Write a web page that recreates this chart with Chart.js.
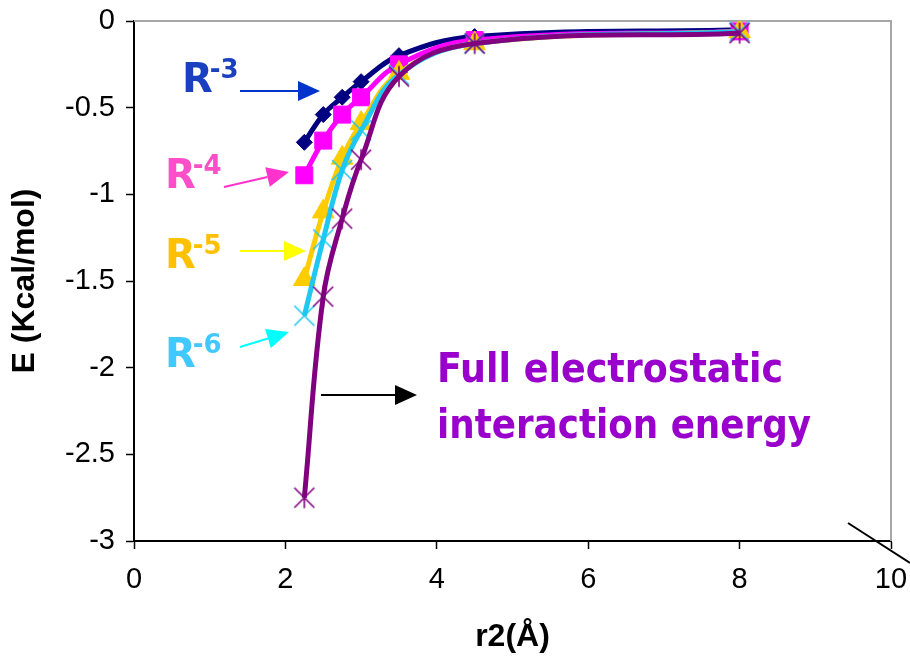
<!DOCTYPE html>
<html><head><meta charset="utf-8">
<script src="https://cdn.jsdelivr.net/npm/chart.js@4.4.0/dist/chart.umd.min.js"></script>
<style>html,body{margin:0;padding:0;background:#fff;} #wrap{width:910px;height:656px;position:relative;}</style>
</head><body><div id="wrap"><canvas id="c" width="910" height="656"></canvas></div>
<script>
// ---- data ----
const rValues = [2.25, 2.5, 2.75, 3.0, 3.5, 4.5, 8.0];
const eR3   = [-0.70, -0.54, -0.44, -0.35, -0.20, -0.09, -0.05];
const eR4   = [-0.89, -0.69, -0.54, -0.44, -0.25, -0.11, -0.06];
const eR5   = [-1.49, -1.10, -0.79, -0.59, -0.30, -0.13, -0.06];
const eR6   = [-1.70, -1.26, -0.86, -0.63, -0.31, -0.13, -0.06];
const eFull = [-2.75, -1.59, -1.14, -0.80, -0.32, -0.13, -0.07];
const seriesNames = ['R-3', 'R-4', 'R-5', 'R-6', 'Full electrostatic interaction energy'];
const xTickLabels = ['0', '2', '4', '6', '8', '10'];
const yTickLabels = ['0', '-0.5', '-1', '-1.5', '-2', '-2.5', '-3'];
const xTitle = 'r2(Å)';
const yTitle = 'E (Kcal/mol)';

function pts(ys){ return rValues.map((x,i)=>({x:x, y:ys[i]})); }

function makeMarker(color, r, lw, vertical){
  const s = Math.ceil(2*r + lw*2 + 2);
  const c = document.createElement('canvas');
  c.width = s; c.height = s;
  const g = c.getContext('2d');
  g.strokeStyle = color; g.lineWidth = lw; g.lineCap = 'butt';
  const m = s/2;
  g.beginPath();
  g.moveTo(m-r, m-r); g.lineTo(m+r, m+r);
  g.moveTo(m+r, m-r); g.lineTo(m-r, m+r);
  if (vertical){ g.moveTo(m, m-r*1.05); g.lineTo(m, m+r*1.05); }
  g.stroke();
  return c;
}
const xMarker = makeMarker('#1EC8F0', 10, 1.6, false);
const starMarker = makeMarker('#800080', 10, 1.6, true);

const FONT = '"Liberation Sans", Arial, sans-serif';

const annotPlugin = {
  id: 'annot',
  beforeDatasetsDraw(chart){
    const {ctx, chartArea:a} = chart;
    ctx.save();
    ctx.strokeStyle = '#A6A6A6'; ctx.lineWidth = 2;
    ctx.beginPath();
    ctx.moveTo(a.left, a.top); ctx.lineTo(a.right, a.top); ctx.lineTo(a.right, a.bottom);
    ctx.stroke();
    ctx.restore();
  },
  afterDraw(chart){
    const {ctx, chartArea:a} = chart;
    ctx.save();
    function arrow(x1,y1,x2,y2,color,lw,hl,hw){
      const ang = Math.atan2(y2-y1, x2-x1);
      const bx = x2 - Math.cos(ang)*hl, by = y2 - Math.sin(ang)*hl;
      ctx.strokeStyle = color; ctx.fillStyle = color; ctx.lineWidth = lw;
      ctx.beginPath(); ctx.moveTo(x1,y1); ctx.lineTo(bx,by); ctx.stroke();
      ctx.beginPath();
      ctx.moveTo(x2,y2);
      ctx.lineTo(bx + Math.sin(ang)*hw, by - Math.cos(ang)*hw);
      ctx.lineTo(bx - Math.sin(ang)*hw, by + Math.cos(ang)*hw);
      ctx.closePath(); ctx.fill();
    }
    function rLabel(x, y, sup, color){
      ctx.fillStyle = color;
      ctx.textBaseline = 'alphabetic'; ctx.textAlign = 'left';
      ctx.font = 'bold 40px "DejaVu Sans", sans-serif';
      ctx.fillText('R', x, y);
      const w = ctx.measureText('R').width;
      ctx.font = 'bold 26px "DejaVu Sans", sans-serif';
      ctx.fillText(sup, x + w - 3, y - 14);
    }
    function fitText(txt, x, y, w, color, font){
      ctx.font = font; ctx.fillStyle = color;
      ctx.textAlign = 'left'; ctx.textBaseline = 'alphabetic';
      const mw = ctx.measureText(txt).width;
      ctx.save(); ctx.translate(x, y); ctx.scale(w/mw, 1);
      ctx.fillText(txt, 0, 0); ctx.restore();
    }
    rLabel(182, 92, '-3', '#1A3FBF');
    arrow(240, 91, 320, 91, '#0033CC', 2, 22, 10);
    rLabel(165, 188, '-4', '#FF4FC8');
    arrow(224, 187, 289, 172, '#FF33CC', 2, 22, 10);
    rLabel(165, 268, '-5', '#FFC000');
    arrow(240, 251, 306, 251, '#FFFF00', 2, 22, 10);
    rLabel(165, 367, '-6', '#40C8FF');
    arrow(240, 347, 289, 332, '#00FFFF', 2, 22, 10);
    arrow(321, 395, 417, 395, '#000000', 2, 22, 10);
    fitText('Full electrostatic', 437, 382, 346, '#9900CC', 'bold 40px "DejaVu Sans", sans-serif');
    fitText('interaction energy', 437, 438, 374, '#9900CC', 'bold 40px "DejaVu Sans", sans-serif');
    // stray diagonal line near the lower right corner
    ctx.strokeStyle = '#000'; ctx.lineWidth = 2;
    ctx.beginPath(); ctx.moveTo(a.right - 43, a.bottom - 18); ctx.lineTo(a.right + 19, a.bottom + 22); ctx.stroke();
    ctx.restore();
  }
};

function ds(label, ys, color, style, radius, order, lw){
  return {
    label, data: pts(ys), borderColor: color, backgroundColor: color,
    borderWidth: lw, pointStyle: style, pointRadius: radius, pointHoverRadius: radius,
    pointBorderColor: color, pointBackgroundColor: color, pointBorderWidth: 1,
    tension: 0.4, fill: false, order
  };
}

new Chart(document.getElementById('c'), {
  type: 'line',
  data: {
    datasets: [
      ds(seriesNames[0], eR3, '#000080', 'rectRot', 8, 5, 5),
      ds(seriesNames[1], eR4, '#FF00FF', 'rect', 12, 4, 5),
      ds(seriesNames[2], eR5, '#FFCC00', 'triangle', 12.5, 3, 5),
      ds(seriesNames[3], eR6, '#1EC8F0', xMarker, 10, 2, 5),
      ds(seriesNames[4], eFull, '#800080', starMarker, 10, 1, 5)
    ]
  },
  options: {
    responsive: false, animation: false, devicePixelRatio: 1,
    layout: { padding: { top: 21, right: 19, left: 0, bottom: 0 } },
    plugins: { legend: { display: false }, tooltip: { enabled: false } },
    scales: {
      x: {
        type: 'linear', min: 0, max: 10,
        afterFit(s){ s.height = 115; s.paddingLeft = 0; s.paddingRight = 0; },
        afterBuildTicks(s){ s.ticks = xTickLabels.map(t => ({ value: parseFloat(t) })); },
        ticks: { callback: (v, i) => xTickLabels[i], color: '#000', font: { family: FONT, size: 29 }, padding: 14, maxRotation: 0, autoSkip: false },
        grid: { drawOnChartArea: false, drawTicks: true, tickLength: 8, color: '#000', tickWidth: 1.5 },
        border: { display: true, color: '#000', width: 2 },
        title: { display: true, text: xTitle, color: '#000', font: { family: FONT, size: 32, weight: 'bold' }, padding: { top: 0, bottom: 0 } }
      },
      y: {
        type: 'linear', min: -3, max: 0,
        afterFit(s){ s.width = 134; s.paddingTop = 0; s.paddingBottom = 0; },
        afterBuildTicks(s){ s.ticks = yTickLabels.map(t => ({ value: parseFloat(t) })); },
        ticks: { callback: (v, i) => yTickLabels[i], color: '#000', font: { family: FONT, size: 29 }, padding: 11, autoSkip: false },
        grid: { drawOnChartArea: false, drawTicks: true, tickLength: 8, color: '#000', tickWidth: 1.5 },
        border: { display: true, color: '#000', width: 2 },
        title: { display: true, text: yTitle, color: '#000', font: { family: FONT, size: 32, weight: 'bold' }, padding: { top: 6, bottom: 0 } }
      }
    }
  },
  plugins: [annotPlugin]
});
</script>
</body></html>
